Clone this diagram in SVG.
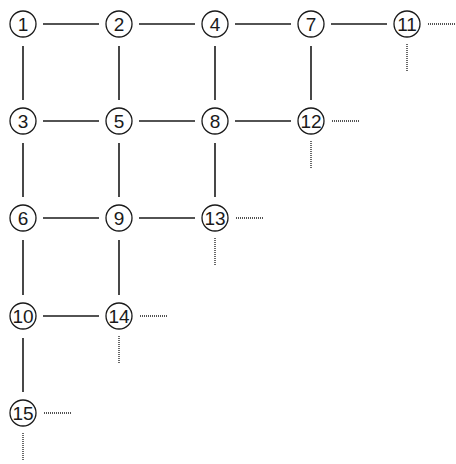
<svg xmlns="http://www.w3.org/2000/svg" width="456" height="464" viewBox="0 0 456 464">
<style>
.n circle{fill:#fff;stroke:#1a1a1a;stroke-width:1.3}
.n text{font-family:"Liberation Sans",Arial,sans-serif;font-size:19px;fill:#1a1a1a;text-anchor:middle;dominant-baseline:central}
.e{stroke:#1a1a1a;stroke-width:1.6;fill:none}
.d{stroke:#1a1a1a;stroke-width:1.3;stroke-dasharray:1 1;fill:none}
</style>
<rect width="456" height="464" fill="#fff"/>
<g id="connectors">
<line class="e" x1="43" y1="24" x2="99" y2="24"/>
<line class="e" x1="139" y1="24" x2="195" y2="24"/>
<line class="e" x1="235" y1="24" x2="291" y2="24"/>
<line class="e" x1="331" y1="24" x2="387" y2="24"/>
<line class="e" x1="43" y1="121" x2="99" y2="121"/>
<line class="e" x1="139" y1="121" x2="195" y2="121"/>
<line class="e" x1="235" y1="121" x2="291" y2="121"/>
<line class="e" x1="43" y1="218" x2="99" y2="218"/>
<line class="e" x1="139" y1="218" x2="195" y2="218"/>
<line class="e" x1="43" y1="316" x2="99" y2="316"/>
<line class="e" x1="23" y1="46" x2="23" y2="100"/>
<line class="e" x1="23" y1="143" x2="23" y2="197"/>
<line class="e" x1="23" y1="240" x2="23" y2="295"/>
<line class="e" x1="23" y1="338" x2="23" y2="392"/>
<line class="e" x1="119" y1="46" x2="119" y2="100"/>
<line class="e" x1="119" y1="143" x2="119" y2="197"/>
<line class="e" x1="119" y1="240" x2="119" y2="295"/>
<line class="e" x1="215" y1="46" x2="215" y2="100"/>
<line class="e" x1="215" y1="143" x2="215" y2="197"/>
<line class="e" x1="311" y1="46" x2="311" y2="100"/>
<line class="d" x1="428" y1="24" x2="456" y2="24"/>
<line class="d" x1="407" y1="44" x2="407" y2="71"/>
<line class="d" x1="332" y1="121" x2="360" y2="121"/>
<line class="d" x1="311" y1="141" x2="311" y2="169"/>
<line class="d" x1="236" y1="218" x2="264" y2="218"/>
<line class="d" x1="215" y1="238" x2="215" y2="266"/>
<line class="d" x1="140" y1="316" x2="168" y2="316"/>
<line class="d" x1="119" y1="336" x2="119" y2="364"/>
<line class="d" x1="44" y1="413" x2="72" y2="413"/>
<line class="d" x1="23" y1="433" x2="23" y2="461"/>
</g>
<g id="n1" class="n"><circle cx="23" cy="24" r="13"/><text x="23" y="24">1</text></g>
<g id="n2" class="n"><circle cx="119" cy="24" r="13"/><text x="119" y="24">2</text></g>
<g id="n4" class="n"><circle cx="215" cy="24" r="13"/><text x="215" y="24">4</text></g>
<g id="n7" class="n"><circle cx="311" cy="24" r="13"/><text x="311" y="24">7</text></g>
<g id="n11" class="n"><circle cx="407" cy="24" r="13"/><text x="407" y="24">11</text></g>
<g id="n3" class="n"><circle cx="23" cy="121" r="13"/><text x="23" y="121">3</text></g>
<g id="n5" class="n"><circle cx="119" cy="121" r="13"/><text x="119" y="121">5</text></g>
<g id="n8" class="n"><circle cx="215" cy="121" r="13"/><text x="215" y="121">8</text></g>
<g id="n12" class="n"><circle cx="311" cy="121" r="13"/><text x="311" y="121">12</text></g>
<g id="n6" class="n"><circle cx="23" cy="218" r="13"/><text x="23" y="218">6</text></g>
<g id="n9" class="n"><circle cx="119" cy="218" r="13"/><text x="119" y="218">9</text></g>
<g id="n13" class="n"><circle cx="215" cy="218" r="13"/><text x="215" y="218">13</text></g>
<g id="n10" class="n"><circle cx="23" cy="316" r="13"/><text x="23" y="316">10</text></g>
<g id="n14" class="n"><circle cx="119" cy="316" r="13"/><text x="119" y="316">14</text></g>
<g id="n15" class="n"><circle cx="23" cy="413" r="13"/><text x="23" y="413">15</text></g>
</svg>
